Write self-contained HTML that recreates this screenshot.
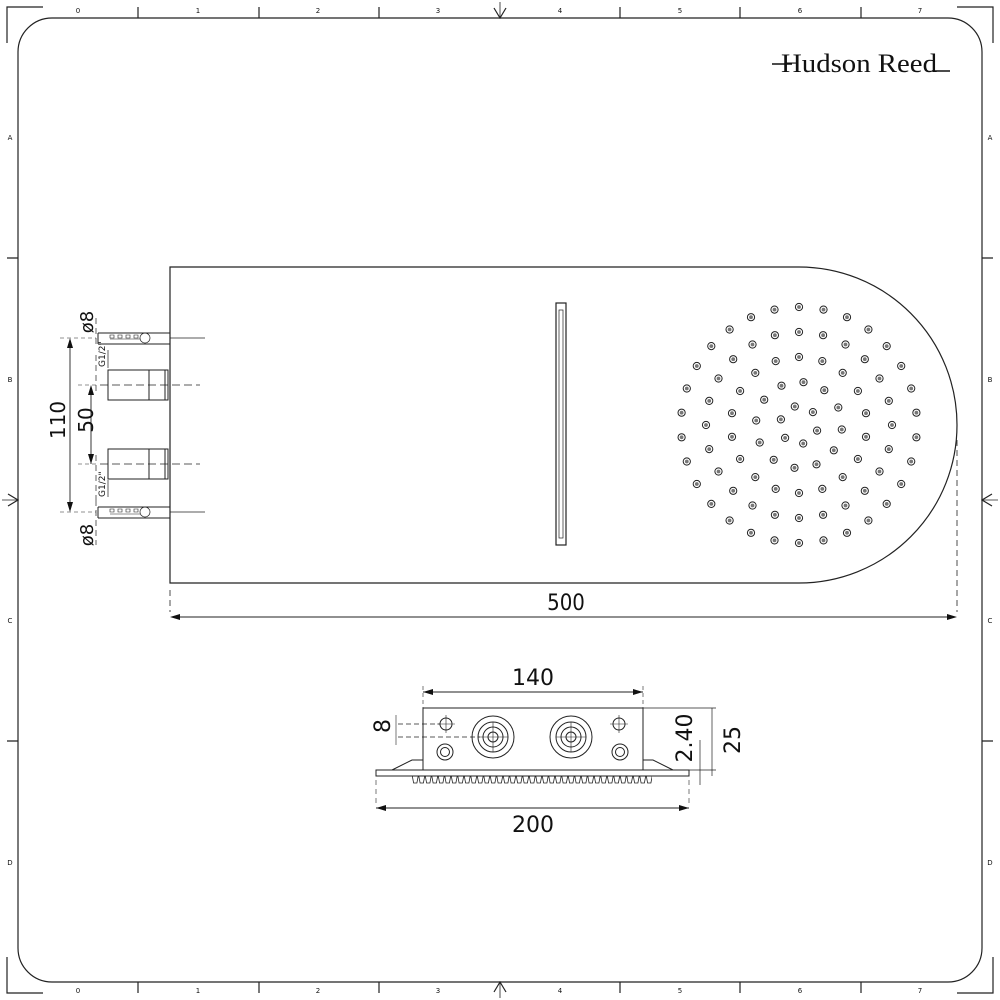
<!DOCTYPE html>
<html><head><meta charset="utf-8"><style>
html,body{margin:0;padding:0;background:#fff}
svg{display:block}
text{font-family:"DejaVu Sans","Liberation Sans",sans-serif;fill:#111}
</style></head><body>
<svg width="1000" height="1000" viewBox="0 0 1000 1000" xmlns="http://www.w3.org/2000/svg">
<defs>
<g id="d"><circle r="3.6" fill="none" stroke="#222" stroke-width="1"/><circle r="1.9" fill="#777"/></g>
<pattern id="tp" x="412" y="776" width="6.5" height="8" patternUnits="userSpaceOnUse">
<path d="M0.3,0 L1.6,7 H4.9 L6.2,0" fill="none" stroke="#222" stroke-width="0.8"/>
</pattern>
</defs>
<g fill="none" stroke="#222" stroke-width="1.2">
<path d="M7,43 V7 H43 M957,7 H993 V43 M993,957 V993 H957 M43,993 H7 V957"/>
<rect x="18" y="18" width="964" height="964" rx="34" ry="34"/>
<path d="M138,7V18 M259,7V18 M379,7V18 M620,7V18 M740,7V18 M861,7V18
M138,982V993 M259,982V993 M379,982V993 M620,982V993 M740,982V993 M861,982V993
M7,258H18 M7,741H18 M982,258H993 M982,741H993"/>
<path d="M494,8 L500,18 L506,8 M494,992 L500,982 L506,992 M8,494 L18,500 L8,506 M992,494 L982,500 L992,506"/>
<path d="M500,2V18 M500,982V998 M2,500H18 M982,500H998" stroke-width="0.8"/>
</g>
<g font-size="7" text-anchor="middle">
<text x="78" y="13">0</text><text x="198" y="13">1</text><text x="318" y="13">2</text><text x="438" y="13">3</text><text x="560" y="13">4</text><text x="680" y="13">5</text><text x="800" y="13">6</text><text x="920" y="13">7</text>
<text x="78" y="993">0</text><text x="198" y="993">1</text><text x="318" y="993">2</text><text x="438" y="993">3</text><text x="560" y="993">4</text><text x="680" y="993">5</text><text x="800" y="993">6</text><text x="920" y="993">7</text>
<text x="10" y="140">A</text><text x="10" y="382">B</text><text x="10" y="623">C</text><text x="10" y="865">D</text>
<text x="990" y="140">A</text><text x="990" y="382">B</text><text x="990" y="623">C</text><text x="990" y="865">D</text>
</g>
<text x="781" y="72" style="font-family:'Liberation Serif',serif" font-size="26" textLength="156" lengthAdjust="spacingAndGlyphs">Hudson Reed</text>
<path d="M772,64H792 M932,71H950" stroke="#111" stroke-width="1.5"/>

<g fill="none" stroke="#222" stroke-width="1.2">
<path d="M170,267 H799 A158,158 0 0 1 799,583 H170 Z"/>
<rect x="556" y="303" width="10" height="242"/>
<rect x="559" y="310" width="4" height="228" stroke-width="0.7"/>
<path d="M170,590V612 M957,440V612" stroke-dasharray="6,4" stroke-width="0.8"/>
<path d="M172,617H955" stroke-width="0.9"/>
</g>
<path d="M170,617 l10,-3 v6z M957,617 l-10,-3 v6z" fill="#111"/>
<text x="566" y="610" font-size="22" text-anchor="middle" style="font-family:'DejaVu Sans Condensed','Liberation Sans Narrow','Liberation Sans',sans-serif">500</text>

<g>
<use href="#d" x="817.1" y="430.6"/><use href="#d" x="803.2" y="443.5"/><use href="#d" x="785.1" y="437.9"/><use href="#d" x="780.9" y="419.4"/><use href="#d" x="794.8" y="406.5"/><use href="#d" x="812.9" y="412.1"/>
<use href="#d" x="841.8" y="429.5"/><use href="#d" x="833.8" y="450.3"/><use href="#d" x="816.5" y="464.3"/><use href="#d" x="794.5" y="467.8"/><use href="#d" x="773.7" y="459.8"/><use href="#d" x="759.7" y="442.5"/><use href="#d" x="756.2" y="420.5"/><use href="#d" x="764.2" y="399.7"/><use href="#d" x="781.5" y="385.7"/><use href="#d" x="803.5" y="382.2"/><use href="#d" x="824.3" y="390.2"/><use href="#d" x="838.3" y="407.5"/>
<use href="#d" x="866" y="436.8"/><use href="#d" x="857.9" y="459"/><use href="#d" x="842.7" y="477.1"/><use href="#d" x="822.3" y="488.9"/><use href="#d" x="799" y="493"/><use href="#d" x="775.7" y="488.9"/><use href="#d" x="755.3" y="477.1"/><use href="#d" x="740.1" y="459"/><use href="#d" x="732" y="436.8"/><use href="#d" x="732" y="413.2"/><use href="#d" x="740.1" y="391"/><use href="#d" x="755.3" y="372.9"/><use href="#d" x="775.7" y="361.1"/><use href="#d" x="799" y="357"/><use href="#d" x="822.3" y="361.1"/><use href="#d" x="842.7" y="372.9"/><use href="#d" x="857.9" y="391"/><use href="#d" x="866" y="413.2"/>
<use href="#d" x="892" y="425"/><use href="#d" x="888.8" y="449.1"/><use href="#d" x="879.5" y="471.5"/><use href="#d" x="864.8" y="490.8"/><use href="#d" x="845.5" y="505.5"/><use href="#d" x="823.1" y="514.8"/><use href="#d" x="799" y="518"/><use href="#d" x="774.9" y="514.8"/><use href="#d" x="752.5" y="505.5"/><use href="#d" x="733.2" y="490.8"/><use href="#d" x="718.5" y="471.5"/><use href="#d" x="709.2" y="449.1"/><use href="#d" x="706" y="425"/><use href="#d" x="709.2" y="400.9"/><use href="#d" x="718.5" y="378.5"/><use href="#d" x="733.2" y="359.2"/><use href="#d" x="752.5" y="344.5"/><use href="#d" x="774.9" y="335.2"/><use href="#d" x="799" y="332"/><use href="#d" x="823.1" y="335.2"/><use href="#d" x="845.5" y="344.5"/><use href="#d" x="864.8" y="359.2"/><use href="#d" x="879.5" y="378.5"/><use href="#d" x="888.8" y="400.9"/>
<use href="#d" x="916.4" y="437.3"/><use href="#d" x="911.2" y="461.5"/><use href="#d" x="901.2" y="484"/><use href="#d" x="886.7" y="503.9"/><use href="#d" x="868.4" y="520.5"/><use href="#d" x="847" y="532.8"/><use href="#d" x="823.5" y="540.4"/><use href="#d" x="799" y="543"/><use href="#d" x="774.5" y="540.4"/><use href="#d" x="751" y="532.8"/><use href="#d" x="729.6" y="520.5"/><use href="#d" x="711.3" y="503.9"/><use href="#d" x="696.8" y="484"/><use href="#d" x="686.8" y="461.5"/><use href="#d" x="681.6" y="437.3"/><use href="#d" x="681.6" y="412.7"/><use href="#d" x="686.8" y="388.5"/><use href="#d" x="696.8" y="366"/><use href="#d" x="711.3" y="346.1"/><use href="#d" x="729.6" y="329.5"/><use href="#d" x="751" y="317.2"/><use href="#d" x="774.5" y="309.6"/><use href="#d" x="799" y="307"/><use href="#d" x="823.5" y="309.6"/><use href="#d" x="847" y="317.2"/><use href="#d" x="868.4" y="329.5"/><use href="#d" x="886.7" y="346.1"/><use href="#d" x="901.2" y="366"/><use href="#d" x="911.2" y="388.5"/><use href="#d" x="916.4" y="412.7"/>
</g>

<g fill="none" stroke="#222" stroke-width="1">
<path d="M98,333H170 M98,344H170 M98,333V344 M98,507H170 M98,518H170 M98,507V518"/>
<path d="M170,338H205 M170,512H205" stroke-width="0.7"/>
<path d="M110,335h4v3h-4z M118,335h4v3h-4z M126,335h4v3h-4z M134,335h4v3h-4z M110,339h30 M110,509h4v3h-4z M118,509h4v3h-4z M126,509h4v3h-4z M134,509h4v3h-4z M110,514h30" stroke-width="0.6"/>
<circle cx="145" cy="338" r="5" stroke-width="0.7"/><circle cx="145" cy="512" r="5" stroke-width="0.7"/>
<path d="M108,370H168V400H108Z M149,370V400 M165,370V400 M108,449H168V479H108Z M149,449V479 M165,449V479"/>
<path d="M100,385H200 M100,464H200" stroke-dasharray="8,4" stroke-width="0.7"/>
<path d="M96,318V345 M96,500V545 M96,355V395 M96,455V500" stroke-dasharray="6,4" stroke-width="0.7"/>
<path d="M108,350V368 M108,480V497" stroke-width="0.7"/>
<path d="M70,342V507 M91,388V464" stroke-width="0.9"/>
<path d="M60,338H96 M60,512H96 M78,385H96 M78,464H96" stroke-dasharray="4,3" stroke-width="0.6"/>
</g>
<path d="M70,338 l-3,10 h6z M70,512 l-3,-10 h6z M91,385 l-3,10 h6z M91,464 l-3,-10 h6z" fill="#111"/>
<g font-size="20" style="font-family:'DejaVu Sans Condensed','Liberation Sans Narrow','Liberation Sans',sans-serif">
<text transform="translate(65,420) rotate(-90)" text-anchor="middle">110</text>
<text transform="translate(93,420) rotate(-90)" text-anchor="middle">50</text>
<text transform="translate(93,322) rotate(-90)" text-anchor="middle" font-size="18">ø8</text>
<text transform="translate(93,535) rotate(-90)" text-anchor="middle" font-size="18">ø8</text>
</g>
<g font-size="9">
<text transform="translate(105,367) rotate(-90)">G1/2"</text>
<text transform="translate(105,497) rotate(-90)">G1/2"</text>
</g>

<g fill="none" stroke="#222" stroke-width="1">
<rect x="423" y="708" width="220" height="62"/>
<rect x="376" y="770" width="313" height="6"/>
<path d="M392,770 L412,760 H423 M673,770 L653,760 H643"/>
<rect x="412" y="776" width="240" height="8" fill="url(#tp)" stroke="none"/>
<circle cx="493" cy="737" r="21"/><circle cx="493" cy="737" r="15"/><circle cx="493" cy="737" r="10"/><circle cx="493" cy="737" r="5"/>
<circle cx="571" cy="737" r="21"/><circle cx="571" cy="737" r="15"/><circle cx="571" cy="737" r="10"/><circle cx="571" cy="737" r="5"/>
<path d="M478,737H508 M493,722V752 M556,737H586 M571,722V752" stroke-width="0.6"/>
<circle cx="446" cy="724" r="6"/><path d="M437,724H455 M446,715V733" stroke-width="0.6"/>
<circle cx="619" cy="724" r="6"/><path d="M610,724H628 M619,715V733" stroke-width="0.6"/>
<circle cx="445" cy="752" r="8"/><circle cx="445" cy="752" r="4.5"/>
<circle cx="620" cy="752" r="8"/><circle cx="620" cy="752" r="4.5"/>
<path d="M423,692H643" stroke-width="0.9"/>
<path d="M423,686V708 M643,686V708" stroke-dasharray="4,3" stroke-width="0.6"/>
<path d="M398,724H440 M398,737H480" stroke-dasharray="5,3" stroke-width="0.7"/>
<path d="M396,715V745" stroke-width="0.6"/>
<path d="M643,708H716 M689,770H716 M712,708V776 M700,740V785" stroke-width="0.7"/>
<path d="M376,780V805 M689,780V805" stroke-dasharray="5,4" stroke-width="0.6"/>
<path d="M376,808H689" stroke-width="0.9"/>
</g>
<path d="M423,692 l10,-3 v6z M643,692 l-10,-3 v6z M376,808 l10,-3 v6z M689,808 l-10,-3 v6z" fill="#111"/>
<g font-size="22" style="font-family:'DejaVu Sans Condensed','Liberation Sans Narrow','Liberation Sans',sans-serif" text-anchor="middle">
<text x="533" y="685">140</text>
<text x="533" y="832">200</text>
<text transform="translate(390,726) rotate(-90)">8</text>
<text transform="translate(692,738) rotate(-90)">2.40</text>
<text transform="translate(740,740) rotate(-90)">25</text>
</g>
</svg>
</body></html>
